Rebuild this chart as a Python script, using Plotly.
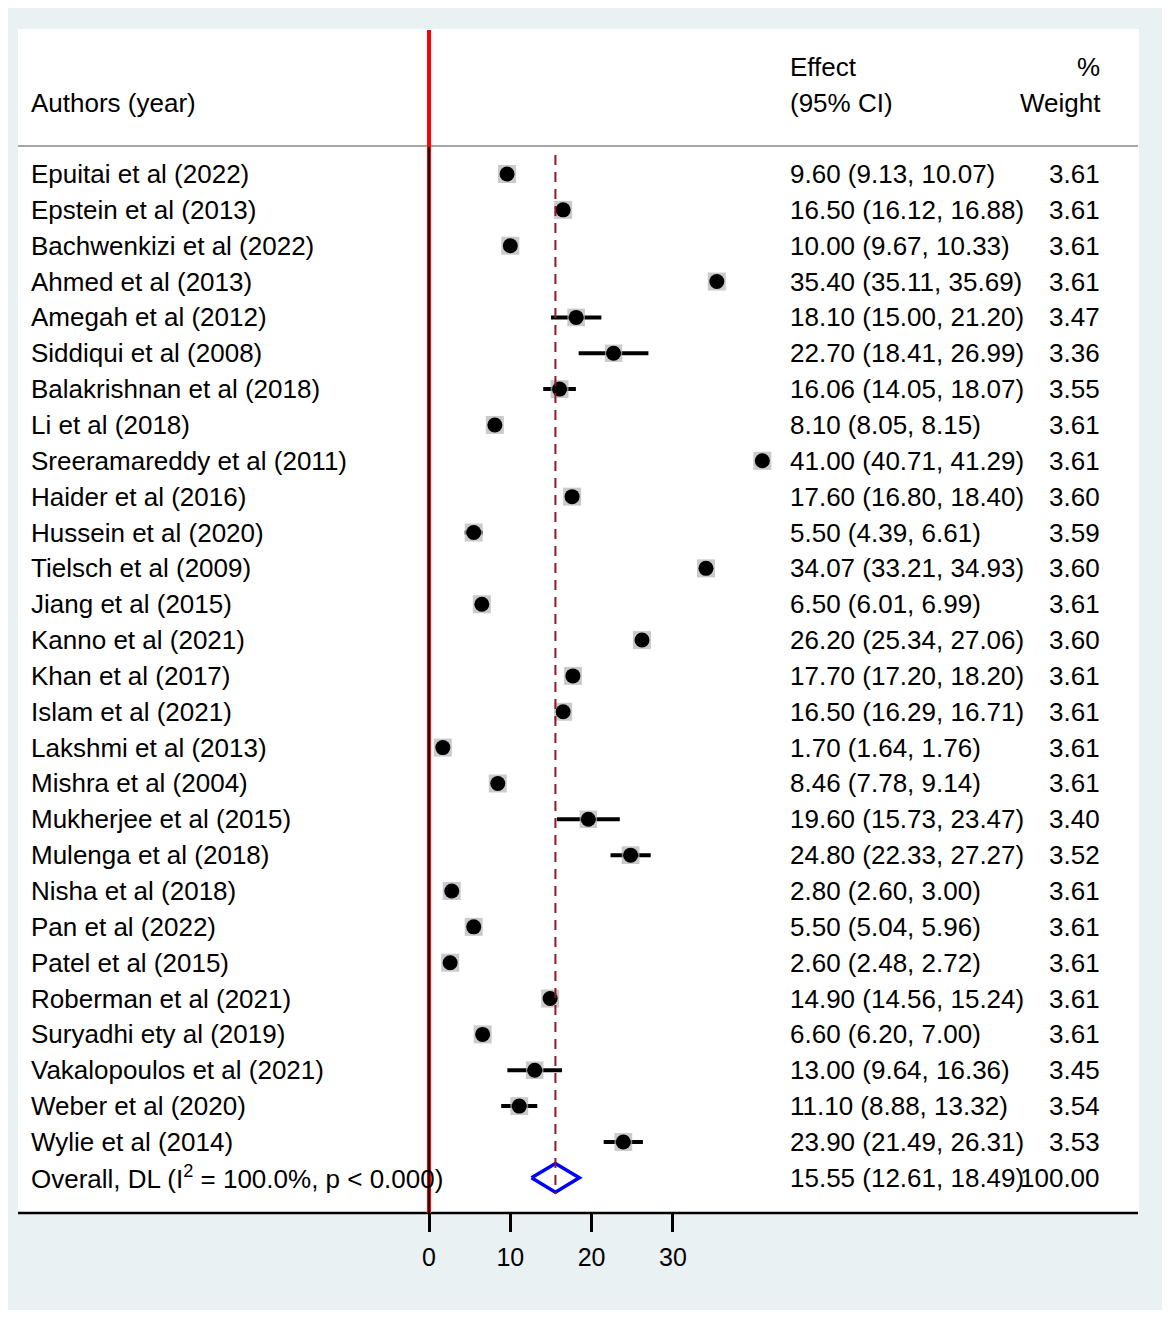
import plotly.graph_objects as go
import math

# ---------------- data ----------------
authors = [
    "Epuitai et al (2022)", "Epstein et al (2013)", "Bachwenkizi et al (2022)",
    "Ahmed et al (2013)", "Amegah et al (2012)", "Siddiqui et al (2008)",
    "Balakrishnan et al (2018)", "Li et al (2018)", "Sreeramareddy et al (2011)",
    "Haider et al (2016)", "Hussein et al (2020)", "Tielsch et al (2009)",
    "Jiang et al (2015)", "Kanno et al (2021)", "Khan et al (2017)",
    "Islam et al (2021)", "Lakshmi et al (2013)", "Mishra et al (2004)",
    "Mukherjee et al (2015)", "Mulenga et al (2018)", "Nisha et al (2018)",
    "Pan et al (2022)", "Patel et al (2015)", "Roberman et al (2021)",
    "Suryadhi ety al (2019)", "Vakalopoulos et al (2021)", "Weber et al (2020)",
    "Wylie et al (2014)",
]
effect = [9.60, 16.50, 10.00, 35.40, 18.10, 22.70, 16.06, 8.10, 41.00, 17.60,
          5.50, 34.07, 6.50, 26.20, 17.70, 16.50, 1.70, 8.46, 19.60, 24.80,
          2.80, 5.50, 2.60, 14.90, 6.60, 13.00, 11.10, 23.90]
lower = [9.13, 16.12, 9.67, 35.11, 15.00, 18.41, 14.05, 8.05, 40.71, 16.80,
         4.39, 33.21, 6.01, 25.34, 17.20, 16.29, 1.64, 7.78, 15.73, 22.33,
         2.60, 5.04, 2.48, 14.56, 6.20, 9.64, 8.88, 21.49]
upper = [10.07, 16.88, 10.33, 35.69, 21.20, 26.99, 18.07, 8.15, 41.29, 18.40,
         6.61, 34.93, 6.99, 27.06, 18.20, 16.71, 1.76, 9.14, 23.47, 27.27,
         3.00, 5.96, 2.72, 15.24, 7.00, 16.36, 13.32, 26.31]
weight = [3.61, 3.61, 3.61, 3.61, 3.47, 3.36, 3.55, 3.61, 3.61, 3.60,
          3.59, 3.60, 3.61, 3.60, 3.61, 3.61, 3.61, 3.61, 3.40, 3.52,
          3.61, 3.61, 3.61, 3.61, 3.61, 3.45, 3.54, 3.53]
overall_label = "Overall, DL (I<sup>2</sup> = 100.0%, p &lt; 0.000)"
overall_effect = 15.55
overall_lower = 12.61
overall_upper = 18.49
overall_weight = 100.00
tick_values = [0, 10, 20, 30]

# ---------------- geometry helpers ----------------
# The page body has an 8px margin, so figure pixel = page pixel - OFF
OFF = 8
W, H = 1162, 1302
PLOT_BOTTOM = 1212 - OFF          # figure pixel y of the x axis
X0_PX, X_SCALE = 429.0 - OFF, 8.13  # figure pixel of x=0, pixels per unit
ROW0_PX, ROW_STEP = 174.0 - OFF, 35.85

def xp(page_px):   # page pixel -> paper x
    return (page_px - OFF) / W

def yp(page_py):   # page pixel -> paper y
    return (PLOT_BOTTOM - (page_py - OFF)) / PLOT_BOTTOM

def row_of(page_py):
    return ((page_py - OFF) - ROW0_PX) / ROW_STEP

n = len(authors)
rows = list(range(n))
overall_row = n

FONT = "Liberation Sans, Arial, Helvetica, sans-serif"
FS = 26

fig = go.Figure()

# CI lines
ci_x, ci_y = [], []
for r, lo, hi in zip(rows, lower, upper):
    ci_x += [lo, hi, None]
    ci_y += [r, r, None]
fig.add_trace(go.Scatter(x=ci_x, y=ci_y, mode="lines",
                         line=dict(color="black", width=4),
                         hoverinfo="skip", showlegend=False))

# weight boxes
fig.add_trace(go.Scatter(
    x=effect, y=rows, mode="markers",
    marker=dict(symbol="square", color="#b3b3b3",
                size=[18 * math.sqrt(w / 3.61) for w in weight],
                line=dict(width=0)),
    hoverinfo="skip", showlegend=False))

# point estimates
fig.add_trace(go.Scatter(
    x=effect, y=rows, mode="markers",
    marker=dict(symbol="circle", color="black", size=15, line=dict(width=0)),
    hoverinfo="skip", showlegend=False))

# overall diamond
h = 0.40
fig.add_trace(go.Scatter(
    x=[overall_lower, overall_effect, overall_upper, overall_effect, overall_lower],
    y=[overall_row, overall_row - h, overall_row, overall_row + h, overall_row],
    mode="lines", line=dict(color="#0000ff", width=3.5),
    hoverinfo="skip", showlegend=False))

shapes = []
# outer grey background and inner white panel
shapes.append(dict(type="rect", xref="paper", yref="paper", layer="below",
                   x0=xp(8), x1=xp(1166), y0=yp(1314), y1=yp(8),
                   fillcolor="#e9f1f3", line=dict(width=0)))
shapes.append(dict(type="rect", xref="paper", yref="paper", layer="below",
                   x0=xp(18), x1=xp(1139), y0=yp(1213), y1=yp(29),
                   fillcolor="white", line=dict(width=0)))
# header separator
shapes.append(dict(type="line", xref="paper", yref="paper",
                   x0=xp(18), x1=xp(1138), y0=yp(146), y1=yp(146),
                   line=dict(color="#a6a6a6", width=2)))
# bottom axis line
shapes.append(dict(type="line", xref="paper", yref="paper",
                   x0=xp(18), x1=xp(1138), y0=yp(1213), y1=yp(1213),
                   line=dict(color="black", width=2.5)))
# red null line (full height) and black overlay below header
shapes.append(dict(type="line", xref="x", yref="paper",
                   x0=0, x1=0, y0=yp(1213), y1=yp(30),
                   line=dict(color="#ff0000", width=4)))
shapes.append(dict(type="line", xref="x", yref="paper",
                   x0=0, x1=0, y0=yp(1213), y1=yp(147),
                   line=dict(color="black", width=1.6)))
# dashed overall line
shapes.append(dict(type="line", xref="x", yref="y",
                   x0=overall_effect, x1=overall_effect,
                   y0=row_of(155), y1=row_of(1194),
                   line=dict(color="#8b1a2a", width=2, dash="10px,7px")))

annotations = []
def txt(text, px, yref, yval, anchor):
    annotations.append(dict(text=text, x=xp(px), xref="paper", y=yval, yref=yref,
                            xanchor=anchor, yanchor="middle", showarrow=False,
                            font=dict(family=FONT, size=FS, color="black")))

LEFT_X, EFF_X, WT_X = 29, 788, 1102

# headers
txt("Authors (year)", LEFT_X, "paper", yp(103), "left")
txt("Effect", EFF_X, "paper", yp(67), "left")
txt("(95% CI)", EFF_X, "paper", yp(103), "left")
txt("%", WT_X, "paper", yp(67), "right")
txt("Weight", WT_X + 1, "paper", yp(103), "right")

for r, a, e, lo, hi, w in zip(rows, authors, effect, lower, upper, weight):
    txt(a, LEFT_X, "y", r, "left")
    txt(f"{e:.2f} ({lo:.2f}, {hi:.2f})", EFF_X, "y", r, "left")
    txt(f"{w:.2f}", WT_X, "y", r, "right")

txt(overall_label, LEFT_X, "y", overall_row, "left")
txt(f"{overall_effect:.2f} ({overall_lower:.2f}, {overall_upper:.2f})", EFF_X, "y", overall_row, "left")
txt(f"{overall_weight:.2f}", WT_X, "y", overall_row, "right")

fig.update_layout(
    width=W, height=H,
    margin=dict(l=0, r=0, t=0, b=H - PLOT_BOTTOM, pad=0),
    paper_bgcolor="white", plot_bgcolor="rgba(0,0,0,0)",
    shapes=shapes, annotations=annotations, showlegend=False,
    font=dict(family=FONT, size=FS, color="black"),
    xaxis=dict(range=[-X0_PX / X_SCALE, (W - X0_PX) / X_SCALE],
               tickvals=tick_values, ticktext=[str(t) for t in tick_values],
               ticks="outside", ticklen=19, tickwidth=2.5, tickcolor="black",
               showgrid=False, zeroline=False, showline=False,
               tickfont=dict(family=FONT, size=25, color="black"),
               ticklabelstandoff=4, fixedrange=True),
    yaxis=dict(range=[row_of(1212), row_of(OFF)], visible=False,
               showgrid=False, zeroline=False, fixedrange=True),
)

fig.write_html("out.html")
